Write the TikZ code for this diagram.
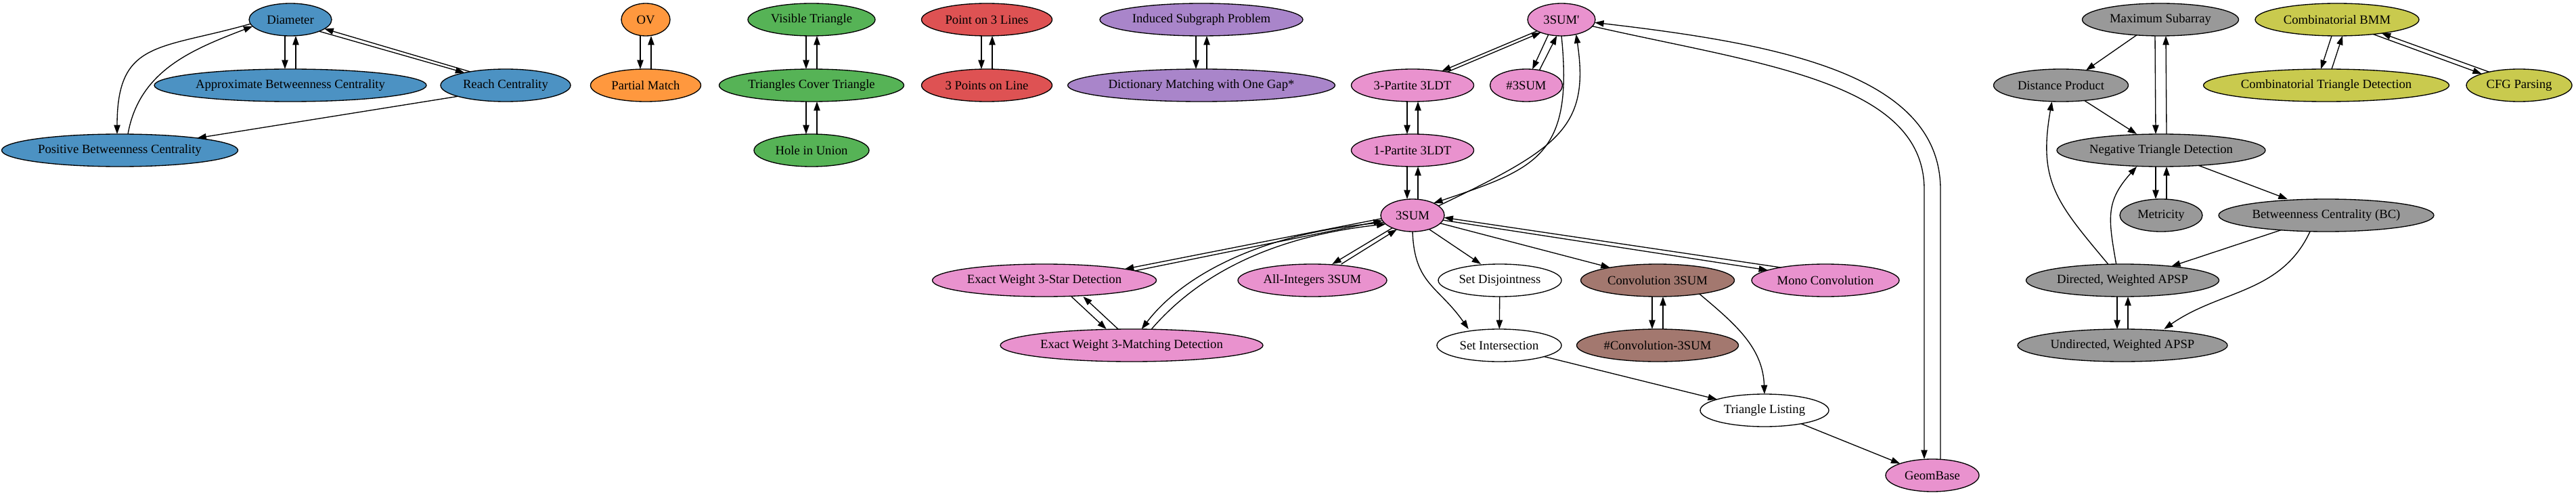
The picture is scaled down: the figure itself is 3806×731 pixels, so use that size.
\documentclass[tikz,border=0pt]{standalone}
\usepackage{fontspec}
\setmainfont{Liberation Serif}
\usetikzlibrary{arrows.meta,shapes.geometric}
\definecolor{blue}{RGB}{76,146,195}
\definecolor{orange}{RGB}{255,152,62}
\definecolor{green}{RGB}{86,179,86}
\definecolor{red}{RGB}{222,82,83}
\definecolor{purple}{RGB}{169,133,202}
\definecolor{brown}{RGB}{163,120,111}
\definecolor{pink}{RGB}{233,146,206}
\definecolor{gray}{RGB}{153,153,153}
\definecolor{olive}{RGB}{201,202,78}

\begin{document}
\begin{tikzpicture}[x=0.75pt,y=0.75pt,>={Triangle[length=10pt,width=7pt]},line width=1pt,
  every node/.style={font={\fontsize{14}{16}\selectfont}},
  prob/.style={ellipse,draw,fill=#1,minimum height=36pt,inner sep=0pt,outer sep=0pt},
  wd/.style={minimum width=#1*0.75pt}]
\useasboundingbox (0,0) rectangle (3806,-731);
% blue
\node[prob=blue,wd=122] (D) at (429,-29) {Diameter};
\node[prob=blue,wd=402] (ABC) at (429,-126) {Approximate Betweenness Centrality};
\node[prob=blue,wd=192] (RC) at (747,-126) {Reach Centrality};
\node[prob=blue,wd=349] (PBC) at (177,-222) {Positive Betweenness Centrality};
% orange, green, red, purple
\node[prob=orange,wd=72] (OV) at (954,-29) {OV};
\node[prob=orange,wd=163] (PM) at (954,-126) {Partial Match};
\node[prob=green,wd=188] (VT) at (1199,-29) {Visible Triangle};
\node[prob=green,wd=273] (TCT) at (1199,-126) {Triangles Cover Triangle};
\node[prob=green,wd=170] (HU) at (1199,-222) {Hole in Union};
\node[prob=red,wd=193] (P3L) at (1458,-29) {Point on 3 Lines};
\node[prob=red,wd=193] (TPL) at (1458,-126) {3 Points on Line};
\node[prob=purple,wd=300] (ISP) at (1775,-29) {Induced Subgraph Problem};
\node[prob=purple,wd=395] (DMG) at (1775,-126) {Dictionary Matching with One Gap*};
% pink and 3SUM
\node[prob=pink,wd=100] (S3p) at (2307,-29) {3SUM\textquotesingle};
\node[prob=pink,wd=181] (TP) at (2087,-126) {3-Partite 3LDT};
\node[prob=pink,wd=107] (NS) at (2255,-126) {\#3SUM};
\node[prob=pink,wd=181] (OP) at (2087,-222) {1-Partite 3LDT};
\node[prob=pink,wd=94] (S3) at (2087,-318) {3SUM};
\node[prob=pink,wd=331] (EWS) at (1543,-414) {Exact Weight 3-Star Detection};
\node[prob=pink,wd=220] (AI) at (1939,-414) {All-Integers 3SUM};
\node[prob=white,wd=182] (SD) at (2216,-414) {Set Disjointness};
\node[prob=brown,wd=227] (CS) at (2449,-414) {Convolution 3SUM};
\node[prob=pink,wd=218] (MC) at (2697,-414) {Mono Convolution};
\node[prob=pink,wd=388] (EWM) at (1672,-510) {Exact Weight 3-Matching Detection};
\node[prob=white,wd=184] (SI) at (2215,-510) {Set Intersection};
\node[prob=brown,wd=239] (NCS) at (2449,-510) {\#Convolution-3SUM};
\node[prob=white,wd=190] (TL) at (2607,-606) {Triangle Listing};
\node[prob=pink,wd=138] (GB) at (2855,-702) {GeomBase};
% gray and olive
\node[prob=gray,wd=231] (MS) at (3192,-29) {Maximum Subarray};
\node[prob=olive,wd=242] (BMM) at (3453,-29) {Combinatorial BMM};
\node[prob=gray,wd=199] (DP) at (3045,-126) {Distance Product};
\node[prob=olive,wd=363] (CTD) at (3437,-126) {Combinatorial Triangle Detection};
\node[prob=olive,wd=156] (CFG) at (3722,-126) {CFG Parsing};
\node[prob=gray,wd=308] (NTD) at (3193,-222) {Negative Triangle Detection};
\node[prob=gray,wd=122] (MET) at (3193,-318) {Metricity};
\node[prob=gray,wd=318] (BC) at (3437,-318) {Betweenness Centrality (BC)};
\node[prob=gray,wd=285] (DAP) at (3136,-414) {Directed, Weighted APSP};
\node[prob=gray,wd=310] (UAP) at (3136,-510) {Undirected, Weighted APSP};

% reductions both ways, one above the other
\foreach \a/\b in {D/ABC,OV/PM,VT/TCT,TCT/HU,P3L/TPL,ISP/DMG,TP/OP,OP/S3,CS/NCS,MS/NTD,NTD/MET,DAP/UAP,BMM/CTD} {
  \draw[->] ([xshift=-6pt]\a.south) -- ([xshift=-6pt]\b.north);
  \draw[->] ([xshift=6pt]\b.north) -- ([xshift=6pt]\a.south);
}
% blue
\draw[->] (D.186) to[out=196,in=90,looseness=1.4] ([xshift=-3pt]PBC.north);
\draw[->] ([xshift=9pt]PBC.north) to[out=80,in=201] (D.190);
\draw[->] (D.-22) -- (RC.163);
\draw[->] (RC.159) -- (D.-15);
\draw[->] (RC.193) -- (PBC.9);
% 3SUM'
\draw[->] (S3p.205) -- (TP.26);
\draw[->] (TP.21) -- (S3p.212);
\draw[->] (S3p.229) -- (NS.69);
\draw[->] (NS.49) -- (S3p.254);
\draw[->] (S3p.south) .. controls +(18,-177) and +(152,51) .. (S3.30);
\draw[->] (S3.20) .. controls +(175,84) and +(21,-139) .. (S3p.-45);
\draw[->] (S3p.-12) .. controls (2600,-95) and (2843,-120) .. (2843,-280) -- ([xshift=-9pt]GB.north);
\draw[->] ([xshift=9pt]GB.north) -- (2867,-280) .. controls (2867,-110) and (2630,-65) .. (S3p.-5);
% 3SUM
\draw[->] (S3.186) -- (EWS.8);
\draw[->] (EWS.6) -- (S3.190);
\draw[->] (S3.194) .. controls +(-187,-15) and +(58,76) .. ([xshift=11pt]EWM.north);
\draw[->] ([xshift=22pt]EWM.north) .. controls +(64,74) and +(-180,-20) .. (S3.198);
\draw[->] ([xshift=30pt]EWS.south) -- ([xshift=-28pt]EWM.north);
\draw[->] ([xshift=-15pt]EWM.north) -- ([xshift=43pt]EWS.south);
\draw[->] (S3.212) -- ([xshift=22pt]AI.north);
\draw[->] ([xshift=32pt]AI.north) -- (S3.222);
\draw[->] (S3.-40) -- ([xshift=-21pt]SD.north);
\draw[->] (S3.south) to[out=-88,in=125,looseness=1.2] ([xshift=-34pt]SI.north);
\draw[->] (SD) -- (SI);
\draw[->] (S3.-16) -- (CS.165);
\draw[->] (S3.-9) -- (MC.170);
\draw[->] (MC.164) -- (S3.-4);
\draw[->] (CS.-18) to[out=-40,in=92] (TL.north);
\draw[->] (SI.-14) -- (TL.167);
\draw[->] (TL.-20) -- (GB.160);
% gray
\draw[->] (MS.213) -- (DP.31);
\draw[->] (DP.-33) -- ([xshift=-27pt]NTD.north);
\draw[->] (NTD.-22) -- ([xshift=-43pt]BC.north);
\draw[->] (BC.198) -- (DAP.16);
\draw[->] ([xshift=-18pt]BC.south) to[out=-115,in=35] ([xshift=46pt]UAP.north);
\draw[->] ([xshift=-16pt]DAP.north) to[out=130,in=-100,looseness=1.2] ([xshift=-10pt]DP.south);
\draw[->] ([xshift=-7pt]DAP.north) to[out=100,in=-132,looseness=1.2] ([xshift=-27pt]NTD.south);
% olive
\draw[->] (BMM.-22) -- (CFG.163);
\draw[->] (CFG.156) -- (BMM.-17);
\end{tikzpicture}
\end{document}
